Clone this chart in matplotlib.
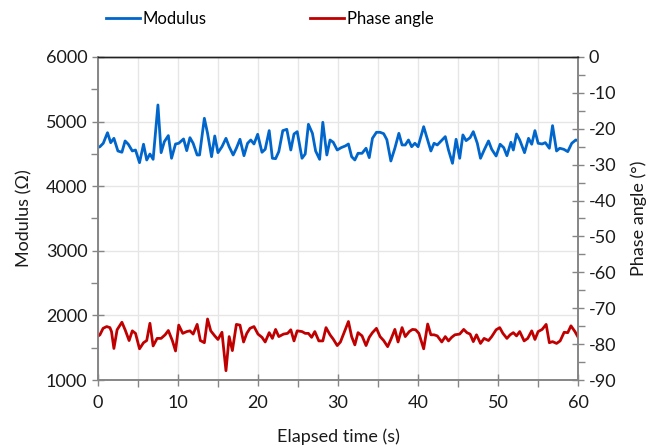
import matplotlib.pyplot as plt
from matplotlib.ticker import MultipleLocator

plt.rcParams["font.family"] = ["Lato", "DejaVu Sans"]
plt.rcParams["axes.unicode_minus"] = False

# modulus readings (s, ohm)
mod_time = [0.0, 0.25, 0.67, 1.2, 1.6, 2.0, 2.5, 3.0, 3.4, 3.8, 4.3, 4.7, 5.2, 5.7, 6.1, 6.5,
            6.9, 7.5, 7.9, 8.3, 8.8, 9.2, 9.7, 10.1, 10.7, 11.1, 11.5, 11.9, 12.4, 12.7, 13.3,
            13.7, 14.2, 14.6, 15.0, 15.5, 16.0, 16.4, 16.9, 17.3, 17.75, 18.25, 18.7, 19.1,
            19.5, 19.96, 20.5, 20.9, 21.4, 21.8, 22.2, 22.6, 23.1, 23.6, 24.1, 24.5, 24.9,
            25.5, 25.9, 26.3, 26.8, 27.2, 27.7, 28.1, 28.6, 29.0, 29.4, 29.9, 30.4, 30.9,
            31.3, 31.7, 32.1, 32.5, 33.0, 33.5, 33.9, 34.3, 34.8, 35.25, 35.7, 36.1, 36.6,
            37.1, 37.6, 38.0, 38.4, 38.8, 39.2, 39.6, 40.0, 40.7, 41.2, 41.6, 42.0, 42.4,
            42.8, 43.4, 43.8, 44.3, 44.75, 45.2, 45.6, 46.0, 46.5, 46.9, 47.4, 47.8, 48.3,
            48.8, 49.2, 49.75, 50.25, 50.7, 51.1, 51.6, 51.9, 52.3, 52.7, 53.3, 53.8, 54.2,
            54.6, 55.0, 55.5, 55.9, 56.4, 56.8, 57.3, 57.7, 58.2, 58.7, 59.2, 59.7, 60.0]
modulus = [4600, 4611, 4664, 4828, 4673, 4741, 4545, 4525, 4700, 4649, 4545, 4560, 4364, 4649,
           4405, 4498, 4416, 5257, 4519, 4689, 4783, 4432, 4653, 4664, 4731, 4550, 4751, 4664,
           4483, 4483, 5051, 4818, 4457, 4777, 4519, 4611, 4741, 4611, 4483, 4587, 4726, 4472,
           4664, 4715, 4653, 4803, 4525, 4571, 4860, 4432, 4426, 4535, 4860, 4880, 4560, 4808,
           4844, 4432, 4498, 4958, 4818, 4545, 4416, 4989, 4483, 4715, 4680, 4560, 4597, 4622,
           4653, 4457, 4406, 4509, 4509, 4587, 4442, 4741, 4834, 4834, 4813, 4720, 4390, 4587,
           4818, 4638, 4638, 4715, 4611, 4664, 4611, 4921, 4715, 4545, 4664, 4638, 4690, 4767,
           4560, 4354, 4726, 4432, 4793, 4705, 4751, 4844, 4664, 4432, 4571, 4700, 4571, 4467,
           4649, 4597, 4472, 4680, 4560, 4808, 4715, 4519, 4741, 4649, 4860, 4664, 4653, 4674,
           4587, 4937, 4545, 4587, 4571, 4535, 4664, 4715, 4705]

# phase angle readings (s, degrees)
phase_time = [0.0, 0.25, 0.65, 1.1, 1.5, 1.7, 2.0, 2.4, 3.0, 3.4, 3.9, 4.3, 4.7, 5.2, 5.7, 6.1,
              6.5, 6.9, 7.4, 7.9, 8.4, 8.8, 9.3, 9.7, 10.1, 10.6, 11.1, 11.5, 11.9, 12.4, 12.8,
              13.3, 13.7, 14.1, 14.6, 15.0, 15.5, 16.0, 16.4, 16.8, 17.3, 17.75, 18.2, 18.6,
              19.0, 19.5, 20.0, 20.5, 20.9, 21.4, 21.8, 22.2, 22.6, 23.2, 23.7, 24.1, 24.5,
              24.9, 25.5, 25.9, 26.3, 26.7, 27.1, 27.6, 28.1, 28.5, 29.0, 29.4, 29.9, 30.3,
              30.9, 31.3, 31.7, 32.1, 32.5, 33.0, 33.5, 33.9, 34.3, 34.8, 35.25, 35.7, 36.2,
              36.6, 37.1, 37.5, 38.0, 38.4, 38.9, 39.3, 39.7, 40.1, 40.7, 41.2, 41.6, 42.0,
              42.4, 42.96, 43.4, 43.8, 44.2, 44.6, 45.2, 45.7, 46.1, 46.5, 46.9, 47.3, 47.8,
              48.25, 48.8, 49.2, 49.75, 50.2, 50.6, 51.1, 51.5, 51.9, 52.3, 52.7, 53.25, 53.7,
              54.2, 54.6, 55.0, 55.5, 56.0, 56.4, 56.8, 57.3, 57.75, 58.25, 58.7, 59.1, 59.6,
              60.0]
phase = [-77.8, -77.4, -75.6, -75.1, -75.4, -76.5, -81.2, -76.0, -73.9, -76.0, -79.0, -76.3,
         -77.0, -81.3, -79.6, -79.0, -74.2, -80.5, -78.4, -78.4, -77.4, -76.2, -79.0, -81.9,
         -74.7, -77.0, -76.5, -76.3, -77.2, -74.5, -79.0, -79.6, -73.0, -76.3, -77.7, -78.7,
         -76.7, -87.4, -77.9, -81.8, -74.5, -74.7, -79.4, -77.0, -75.6, -75.1, -77.2, -78.1,
         -79.4, -76.8, -78.4, -75.9, -77.9, -77.2, -77.0, -76.0, -79.1, -76.3, -76.5, -77.0,
         -77.0, -78.1, -76.5, -79.1, -79.1, -75.4, -77.4, -78.6, -80.4, -79.4, -76.0, -73.7,
         -77.9, -80.2, -76.8, -77.7, -80.4, -78.1, -76.8, -75.6, -77.9, -79.0, -80.7, -78.7,
         -75.9, -79.4, -75.4, -77.9, -76.5, -75.9, -76.0, -77.0, -81.3, -74.4, -77.4, -77.4,
         -77.7, -79.4, -77.9, -79.1, -78.1, -77.4, -77.2, -75.9, -76.8, -77.2, -79.3, -77.4,
         -79.8, -78.4, -79.0, -77.9, -76.0, -75.4, -77.0, -78.4, -77.4, -76.8, -77.7, -76.5,
         -79.1, -78.4, -76.3, -78.7, -76.5, -75.9, -74.5, -79.6, -79.3, -79.8, -79.1, -76.7,
         -76.8, -74.9, -76.5, -78.1]

BLUE = "#0066CC"
RED = "#C00000"
AXIS_GRAY = "#868686"
TEXT = "#1a1a1a"
FS = 13

fig = plt.figure(figsize=(6.57, 4.45), dpi=100)
ax = fig.add_axes([0.149, 0.146, 0.731, 0.726])
ax2 = ax.twinx()

ax.plot(mod_time, modulus, color=BLUE, lw=2.0, label="Modulus")
ax2.plot(phase_time, phase, color=RED, lw=2.0, label="Phase angle")

ax.set_xlim(0, 60)
ax.set_ylim(1000, 6000)
ax2.set_ylim(-90, 0)

ax.xaxis.set_major_locator(MultipleLocator(10))
ax.xaxis.set_minor_locator(MultipleLocator(5))
ax.yaxis.set_major_locator(MultipleLocator(1000))
ax.yaxis.set_minor_locator(MultipleLocator(500))
ax2.yaxis.set_major_locator(MultipleLocator(10))
ax2.yaxis.set_minor_locator(MultipleLocator(5))

ax.grid(True, which="both", axis="x", color="#E6E6E6", lw=1)
ax.grid(True, which="major", axis="y", color="#E6E6E6", lw=1)
ax.set_axisbelow(True)

for a in (ax, ax2):
    for side in ("left", "right", "bottom"):
        a.spines[side].set_color(AXIS_GRAY)
        a.spines[side].set_linewidth(1.2)
    a.spines["top"].set_color("#222222")
    a.spines["top"].set_linewidth(1.0)
    a.tick_params(which="both", colors=AXIS_GRAY, labelcolor=TEXT, labelsize=FS, width=1)
    a.tick_params(which="major", direction="inout", length=8)
    a.tick_params(which="minor", direction="out", length=5)

ax.tick_params(axis="x", pad=7)
ax.set_xlabel("Elapsed time (s)", fontsize=FS, color=TEXT, labelpad=12)
ax.set_ylabel("Modulus (\u03a9)", fontsize=FS, color=TEXT, labelpad=10)
ax2.set_ylabel("Phase angle (\u00b0)", fontsize=FS, color=TEXT, labelpad=10)

lines = ax.get_lines() + ax2.get_lines()
fig.legend(lines, [l.get_label() for l in lines], loc="center", ncol=2,
           bbox_to_anchor=(0.411, 0.957), frameon=False, fontsize=12,
           handlelength=2.0, handletextpad=0.2, columnspacing=6.2)

fig.savefig("out.png", dpi=100)
